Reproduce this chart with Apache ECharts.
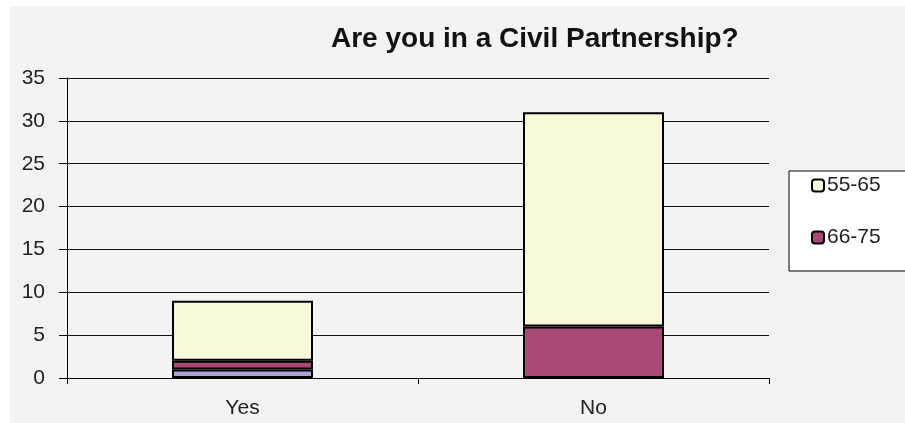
<!DOCTYPE html>
<html>
<head>
<meta charset="utf-8">
<style>
  html, body { margin: 0; padding: 0; background: #ffffff; }
  #chart { width: 905px; height: 423px; }
</style>
<script src="https://cdn.jsdelivr.net/npm/echarts@6/dist/echarts.min.js"></script>
</head>
<body>
<div id="chart"></div>
<script>
// Answers grouped by age band
const categories = ['Yes', 'No'];
const age5565 = [7, 25];
const age6675 = [1, 6];
const age7685 = [1, 0];
const yTicks = { min: 0, max: 35, step: 5 };

const FONT = '"Liberation Sans", Arial, sans-serif';
const chart = echarts.init(document.getElementById('chart'), null, { renderer: 'canvas' });

const barStyle = (color) => ({ color: color, borderColor: '#000', borderWidth: 2 });

chart.setOption({
  backgroundColor: '#ffffff',
  animation: false,
  textStyle: { fontFamily: FONT },
  graphic: [{
    type: 'rect', z: -10, silent: true,
    shape: { x: 10, y: 6, width: 900, height: 420 },
    style: { fill: '#f2f3f2' }
  }],
  title: {
    text: 'Are you in a Civil Partnership?',
    left: 326, top: 20,
    textStyle: { fontFamily: FONT, fontSize: 28, fontWeight: 'bold', color: '#111' }
  },
  legend: {
    data: ['55-65', '66-75'],
    orient: 'vertical',
    left: 789, top: 171,
    padding: [4, 60, 23, 22],
    itemWidth: 12, itemHeight: 12, itemGap: 31,
    backgroundColor: '#ffffff',
    borderColor: '#000', borderWidth: 1,
    itemStyle: { borderColor: '#000', borderWidth: 2 },
    textStyle: { fontFamily: FONT, fontSize: 21, color: '#222', padding: [0, 0, 0, -2] }
  },
  grid: { left: 67, right: 136, top: 78, bottom: 45 },
  xAxis: {
    type: 'category',
    data: categories,
    axisLine: { lineStyle: { color: '#000', width: 1 } },
    axisTick: { show: true, length: 6, lineStyle: { color: '#000' } },
    axisLabel: { fontFamily: FONT, fontSize: 21, color: '#222', margin: 20 }
  },
  yAxis: {
    type: 'value',
    min: yTicks.min, max: yTicks.max, interval: yTicks.step,
    axisLine: { show: true, lineStyle: { color: '#000', width: 1 } },
    axisTick: { show: true, length: 8, lineStyle: { color: '#000' } },
    axisLabel: { fontFamily: FONT, fontSize: 21, color: '#222', margin: 22 },
    splitLine: { show: true, lineStyle: { color: '#111', width: 1 } }
  },
  series: [
    { name: '76-85', type: 'bar', stack: 'a', barWidth: 141, data: age7685, itemStyle: barStyle('#a9a3d6') },
    { name: '66-75', type: 'bar', stack: 'a', barWidth: 141, data: age6675, itemStyle: barStyle('#a84a74') },
    { name: '55-65', type: 'bar', stack: 'a', barWidth: 141, data: age5565, itemStyle: barStyle('#f8f8da') }
  ]
});
</script>
</body>
</html>
